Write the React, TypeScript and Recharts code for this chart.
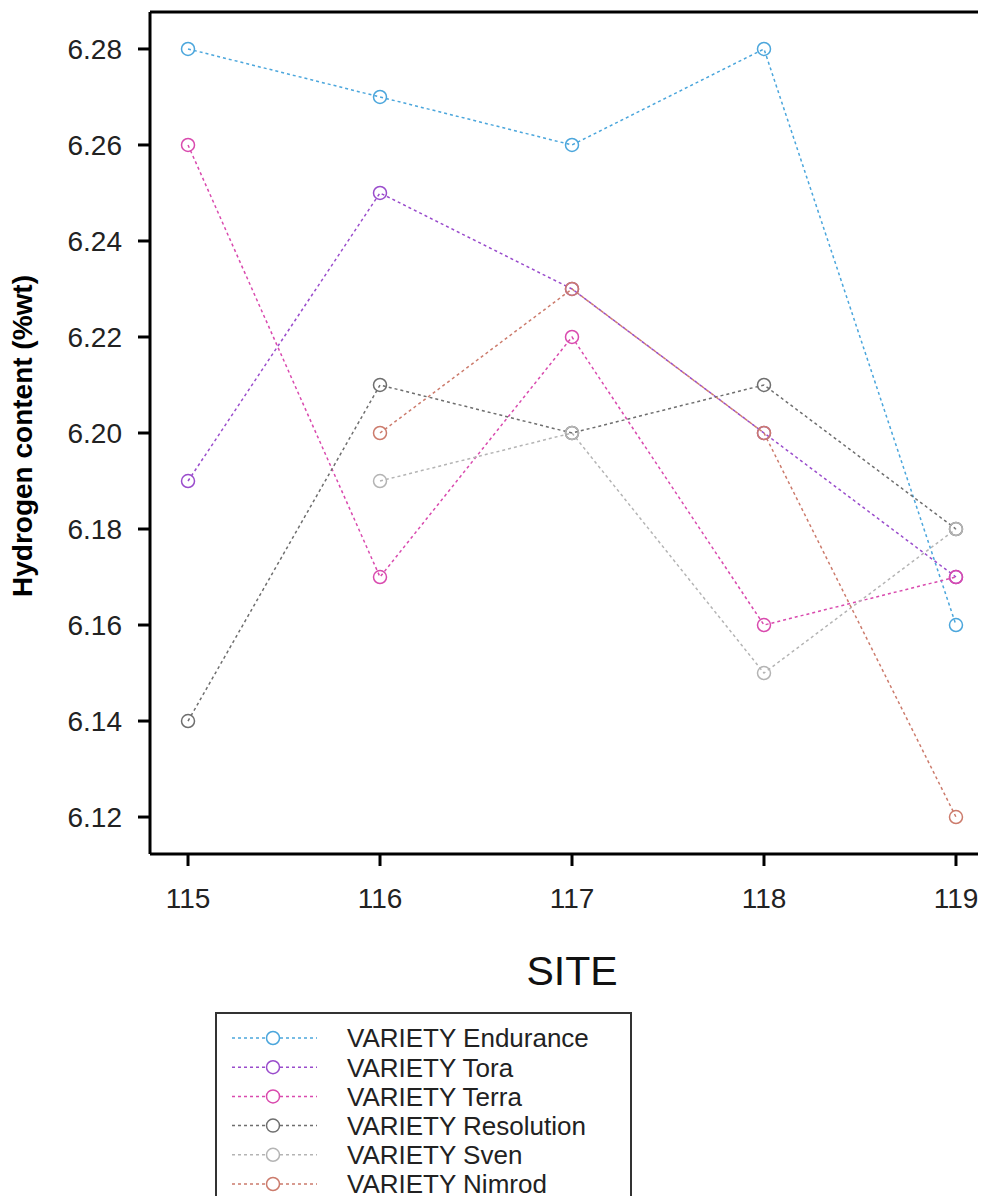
import React from 'react';
import { LineChart, Line, XAxis, YAxis, Legend, ReferenceLine } from 'recharts';

const sites = [115, 116, 117, 118, 119];
const endurance = [6.28, 6.27, 6.26, 6.28, 6.16];
const tora = [6.19, 6.25, 6.23, 6.2, 6.17];
const terra = [6.26, 6.17, 6.22, 6.16, 6.17];
const resolution = [6.14, 6.21, 6.2, 6.21, 6.18];
const sven = [null, 6.19, 6.2, 6.15, 6.18];
const nimrod = [null, 6.2, 6.23, 6.2, 6.12];

const yTicks = [6.12, 6.14, 6.16, 6.18, 6.2, 6.22, 6.24, 6.26, 6.28];
const yDomain = [6.1123, 6.2877];
const xDomain = [114.802, 119.198];

const series = [
  { key: 'endurance', name: 'VARIETY Endurance', color: '#4ba6dc', values: endurance },
  { key: 'tora', name: 'VARIETY Tora', color: '#9a4ccc', values: tora },
  { key: 'terra', name: 'VARIETY Terra', color: '#d94aae', values: terra },
  { key: 'resolution', name: 'VARIETY Resolution', color: '#6e6e6e', values: resolution },
  { key: 'sven', name: 'VARIETY Sven', color: '#b4b4b4', values: sven },
  { key: 'nimrod', name: 'VARIETY Nimrod', color: '#cc7b6c', values: nimrod },
];

const data = sites.map((site, i) => {
  const row: Record<string, number | null> = { site };
  series.forEach((s) => {
    row[s.key] = s.values[i];
  });
  return row;
});

const FONT = '"Liberation Sans", Arial, sans-serif';

// legend keeps the series order (recharts would sort the payload by name)
function LegendBox() {
  return (
    <svg width={417} height={200} style={{ display: 'block' }}>
      <rect x={1} y={1} width={415} height={220} fill="#fff" stroke="#333" strokeWidth={2} />
      {series.map((s, i) => {
        const cy = 26 + i * 29.2;
        return (
          <g key={s.key}>
            <line x1={17} x2={102} y1={cy} y2={cy} stroke={s.color} strokeWidth={1.5} strokeDasharray="3 3" />
            <circle cx={58} cy={cy} r={6.5} fill="#fff" stroke={s.color} strokeWidth={1.5} />
            <text x={132} y={cy} dy="0.36em" fontSize={26} fontFamily={FONT} fill="#222">
              {s.name}
            </text>
          </g>
        );
      })}
    </svg>
  );
}

export default function App() {
  return (
    <div style={{ width: 978, height: 1196, overflow: 'hidden', marginBottom: -8, position: 'relative' }}>
      <LineChart
        width={990}
        height={1196}
        data={data}
        margin={{ top: 4, right: 4, left: 0, bottom: 290 }}
      >
        <XAxis
          dataKey="site"
          type="number"
          domain={xDomain}
          allowDataOverflow
          ticks={sites}
          height={60}
          tickSize={12}
          tickMargin={22}
          axisLine={{ stroke: '#000', strokeWidth: 3 }}
          tickLine={{ stroke: '#000', strokeWidth: 3 }}
          tick={{ fill: '#222', fontSize: 28, fontFamily: FONT }}
          label={{
            content: () => (
              <text x={564} y={962} dy="0.36em" textAnchor="middle" fontSize={41} fontFamily={FONT} fill="#111">
                SITE
              </text>
            ),
          }}
        />
        <YAxis
          type="number"
          domain={yDomain}
          allowDataOverflow
          ticks={yTicks}
          width={142}
          tickSize={12}
          tickMargin={16}
          tickFormatter={(v: number) => v.toFixed(2)}
          axisLine={{ stroke: '#000', strokeWidth: 3 }}
          tickLine={{ stroke: '#000', strokeWidth: 3 }}
          tick={{ fill: '#222', fontSize: 28, fontFamily: FONT }}
          label={{
            content: () => (
              <text
                x={14}
                y={428}
                textAnchor="middle"
                dy="0.36em"
                transform="rotate(-90 14 428)"
                fontSize={28}
                fontWeight="bold"
                fontFamily={'"Liberation Sans Narrow", "Arial Narrow", ' + FONT}
                fill="#000"
              >
                Hydrogen content (%wt)
              </text>
            ),
          }}
        />
        <ReferenceLine y={yDomain[1]} stroke="#000" strokeWidth={3} />
        {series.map((s) => (
          <Line
            key={s.key}
            dataKey={s.key}
            name={s.name}
            stroke={s.color}
            strokeWidth={1.5}
            strokeDasharray="3 3"
            dot={{ r: 6.5, fill: 'none', stroke: s.color, strokeWidth: 1.5, strokeDasharray: 'none' }}
            activeDot={false}
            isAnimationActive={false}
          />
        ))}
        <Legend
          layout="horizontal"
          verticalAlign="middle"
          align="center"
          content={LegendBox}
          wrapperStyle={{ position: 'absolute', left: 207, top: 1004, width: 417, height: 200 }}
        />
      </LineChart>
    </div>
  );
}
